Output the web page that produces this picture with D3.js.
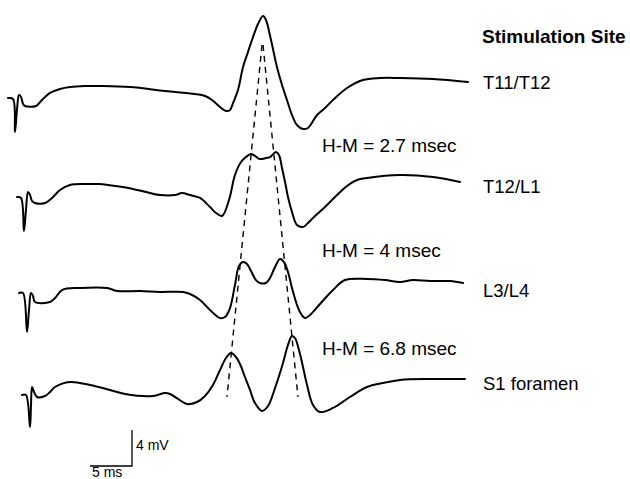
<!DOCTYPE html>
<html><head><meta charset="utf-8">
<script src="https://cdn.jsdelivr.net/npm/d3@7"></script>
<style>
html,body{margin:0;padding:0;background:#fff;}
svg{display:block;}
text{font-family:"Liberation Sans",Arial,Helvetica,sans-serif;fill:#000;}
</style></head>
<body>
<svg id="chart" width="630" height="479"></svg>
<script>
// ---- DATA: each trace as [time ms, amplitude mV] ----
const siteNames = ["T11/T12", "T12/L1", "L3/L4", "S1 foramen"];
const hmLabels = ["H-M = 2.7 msec", "H-M = 4 msec", "H-M = 6.8 msec"];
const titleText = "Stimulation Site";

const traceT11T12 = [[0,0],[0.6,-0.11],[0.83,-3.78],[1.07,-1.33],[1.31,0.33],[1.55,0.11],[1.79,-0.67],[2.02,-0.89],[3.33,-0.89],[4.05,-0.22],[5.0,0.56],[6.19,1.0],[7.38,1.22],[9.17,1.33],[10.95,1.33],[14.52,1.22],[18.69,0.78],[22.26,0.44],[23.45,0.22],[24.29,-0.22],[25.24,-1.0],[25.95,-1.44],[26.43,-1.33],[26.79,-0.56],[27.38,0.89],[27.98,3.44],[28.57,5.11],[29.17,6.78],[29.76,8.22],[30.36,9.11],[30.71,8.67],[31.31,6.44],[32.02,3.44],[32.62,1.44],[33.21,-0.22],[33.81,-1.89],[34.40,-3.0],[35.12,-3.44],[35.71,-3.33],[36.79,-1.89],[37.74,-1.11],[38.69,-0.22],[40.36,1.11],[42.26,2.0],[44.29,2.22],[46.67,2.22],[50.60,2.11],[54.76,1.78]];

const traceT12L1 = [[1.07,0],[1.55,-0.11],[1.90,-3.78],[2.14,-1.44],[2.38,0.56],[2.62,0.22],[2.86,-0.44],[3.21,-0.67],[4.40,-0.67],[5.24,-0.11],[6.19,0.78],[7.38,1.33],[9.17,1.44],[10.95,1.44],[12.74,1.22],[14.88,0.89],[16.90,0.44],[18.10,0.22],[19.88,0.22],[20.71,0.44],[21.67,0.22],[22.86,-0.11],[24.05,-1.11],[24.76,-1.78],[25.48,-2.11],[26.31,-0.33],[27.02,2.44],[27.74,3.89],[28.33,4.44],[28.93,4.78],[29.40,4.56],[30.0,4.22],[30.71,4.33],[31.19,4.44],[31.90,5.0],[32.26,4.67],[32.62,3.22],[32.98,1.67],[33.33,0],[33.81,-1.67],[34.40,-3.11],[35.12,-3.33],[35.71,-2.89],[36.31,-2.33],[37.74,-1.11],[39.17,0.22],[40.36,1.22],[41.55,1.89],[42.74,2.11],[46.67,2.44],[50.60,2.22],[53.81,1.67]];

const traceL3L4 = [[1.31,0],[1.79,0],[2.26,-4.33],[2.50,-1.89],[2.74,0],[2.98,-0.33],[3.21,-1.0],[5.0,-1.0],[5.60,-0.56],[6.43,0.33],[8.57,0.56],[11.79,0.56],[12.98,0.22],[15.71,0.22],[18.10,0.11],[20.83,0.11],[21.67,-0.11],[22.86,-0.78],[24.05,-1.89],[25.24,-2.78],[25.83,-2.67],[26.43,-1.67],[27.02,0.89],[27.50,3.0],[27.98,3.44],[28.45,3.22],[28.93,2.44],[29.52,1.44],[30.0,1.11],[30.71,1.11],[31.19,1.67],[31.79,2.89],[32.38,3.78],[32.86,3.44],[33.33,2.33],[33.81,0.56],[34.29,-1.0],[34.76,-2.11],[35.36,-2.78],[35.95,-2.44],[37.14,-1.22],[38.69,0.33],[40.12,1.44],[42.74,1.56],[44.88,1.44],[46.67,1.22],[48.21,1.44],[50.24,1.33],[52.62,1.33],[54.17,1.11]];

const traceS1 = [[1.67,0],[2.14,0],[2.62,-3.56],[2.74,-1.11],[2.86,0.89],[3.10,0.33],[3.45,-0.22],[4.40,-0.11],[5.0,0.33],[5.60,0.89],[7.38,1.44],[9.76,1.11],[12.14,0.56],[13.93,0.11],[17.26,-0.11],[18.69,0.22],[19.29,0.11],[20.24,-0.44],[21.31,-1.0],[22.50,-0.78],[23.45,-0.11],[24.40,1.11],[25.24,2.78],[25.95,4.11],[26.55,4.67],[27.14,4.22],[27.62,3.44],[28.21,2.0],[28.81,0.56],[29.40,-0.89],[30.24,-1.78],[30.95,-1.22],[31.79,0.78],[32.74,3.56],[33.33,5.56],[33.81,6.56],[34.17,6.33],[34.64,5.0],[35.12,3.11],[35.60,1.11],[36.31,-1.11],[37.14,-1.89],[38.69,-1.44],[40.71,-0.22],[42.74,0.89],[44.64,1.33],[46.67,1.67],[50.60,1.78],[54.40,1.78]];

// H and M latency guides: [trace index, time ms, mV] start and end
const mWaveGuide = [[0,30.24,5.89],[3,26.07,-0.22]];
const hWaveGuide = [[0,30.36,5.89],[3,34.52,-0.22]];

// calibration bar values
const calTime = 5;   // ms
const calVolt = 4;   // mV
const calLabels = ["5 ms", "4 mV"];

// ---- LAYOUT ----
const traces = [traceT11T12, traceT12L1, traceL3L4, traceS1];
const baseY = [98, 197, 293, 395];
const labelY = [89, 193, 297, 390];
const hmY = [152, 257, 355];
const svg = d3.select("#chart");

const x = d3.scaleLinear().domain([0, 10]).range([8, 92]);     // 8.4 px per ms
const y = d3.scaleLinear().domain([0, 4]).range([0, -36]);      // 9 px per mV (relative)

const line = d3.line().x(d => x(d[0])).y(d => y(d[1])).curve(d3.curveCatmullRom.alpha(0.5));

traces.forEach((tr, i) => {
  svg.append("g").attr("transform", `translate(0,${baseY[i]})`)
    .append("path").datum(tr).attr("d", line)
    .attr("fill", "none").attr("stroke", "#000").attr("stroke-width", 2)
    .attr("stroke-linejoin", "round").attr("stroke-linecap", "round");
});

[mWaveGuide, hWaveGuide].forEach(g => {
  svg.append("line")
    .attr("x1", x(g[0][1])).attr("y1", baseY[g[0][0]] + y(g[0][2]))
    .attr("x2", x(g[1][1])).attr("y2", baseY[g[1][0]] + y(g[1][2]))
    .attr("stroke", "#000").attr("stroke-width", 1.4).attr("stroke-dasharray", "6,5");
});

svg.append("text").attr("x", 482).attr("y", 43).attr("font-size", 19).attr("font-weight", "bold").text(titleText);
siteNames.forEach((s, i) => {
  svg.append("text").attr("x", 483).attr("y", labelY[i]).attr("font-size", 18.5).text(s);
});
hmLabels.forEach((s, i) => {
  svg.append("text").attr("x", 322).attr("y", hmY[i]).attr("font-size", 19).text(s);
});

// calibration bar
const cx = 132, cy = 466;
const calX = d3.scaleLinear().domain([0, 10]).range([0, x(10) - x(0)]);
svg.append("path")
  .attr("d", `M${cx - calX(calTime)},${cy}H${cx}V${cy + y(calVolt)}`)
  .attr("fill", "none").attr("stroke", "#000").attr("stroke-width", 1.3);
svg.append("text").attr("x", 92).attr("y", 477).attr("font-size", 14).text(calLabels[0]);
svg.append("text").attr("x", 136).attr("y", 450).attr("font-size", 14).text(calLabels[1]);
</script>
</body></html>
